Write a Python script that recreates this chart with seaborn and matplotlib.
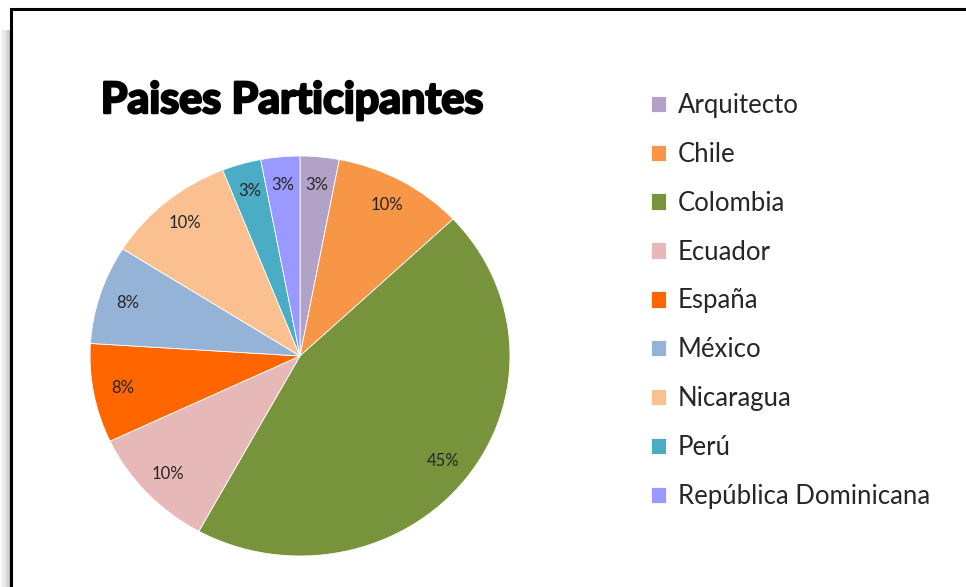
import matplotlib
matplotlib.use("Agg")
import matplotlib.pyplot as plt
import matplotlib.patheffects as pe
from matplotlib.patches import Rectangle
import seaborn as sns

paises = ["Arquitecto", "Chile", "Colombia", "Ecuador", "España",
          "México", "Nicaragua", "Perú", "República Dominicana"]
porcentajes = [3, 10, 45, 10, 8, 8, 10, 3, 3]
colores = ["#B3A2C7", "#F79646", "#77933C", "#E6B9B8", "#FF6600",
           "#95B3D7", "#FAC090", "#4BACC6", "#9999FF"]
titulo = "Paises Participantes"

sns.set_theme(style="white")
plt.rcParams["font.family"] = ["Lato", "DejaVu Sans"]

W, H = 966, 587
fig = plt.figure(figsize=(W / 100, H / 100), dpi=100)
fig.patch.set_facecolor("white")

# pie axes (pixel box of the ellipse: x 90-510, y 156-556)
ax = fig.add_axes([90 / W, (H - 556) / H, 420 / W, 400 / H])
pal = sns.color_palette(colores)
wedges, texts, autotexts = ax.pie(
    porcentajes, colors=pal, startangle=90, counterclock=False,
    autopct="%1.0f%%", pctdistance=0.86,
    wedgeprops=dict(linewidth=0.6, edgecolor="white"),
    textprops=dict(fontsize=12, color="#262626"))
ax.set_aspect("auto")
ax.set_xlim(-1, 1)
ax.set_ylim(-1, 1)
ax.axis("off")

fig.text(292 / W, 1 - 100 / H, titulo, ha="center", va="center",
         fontsize=31, fontweight="bold", color="black",
         path_effects=[pe.withStroke(linewidth=1.8, foreground="black")])

fig.legend(wedges, paises, loc="upper left",
           bbox_to_anchor=(638 / W, 1 - 80 / H), frameon=False,
           fontsize=18.5, handlelength=0.6, handleheight=0.6,
           handletextpad=0.45, labelspacing=0.93, borderpad=0)

# chart frame with a soft shadow on the left
for i, a in enumerate([0.05, 0.08, 0.12, 0.18, 0.25]):
    fig.patches.append(Rectangle(((1 + i * 2) / W, -0.1), 2 / W, 1.1 - 30 / H,
                                 transform=fig.transFigure, color="black",
                                 alpha=a, lw=0))
fig.patches.append(Rectangle((11 / W, -0.1), 1.2, 1.1 - 9 / H,
                             transform=fig.transFigure, fill=False,
                             edgecolor="black", lw=2.2))

fig.savefig("out.png", dpi=100)
